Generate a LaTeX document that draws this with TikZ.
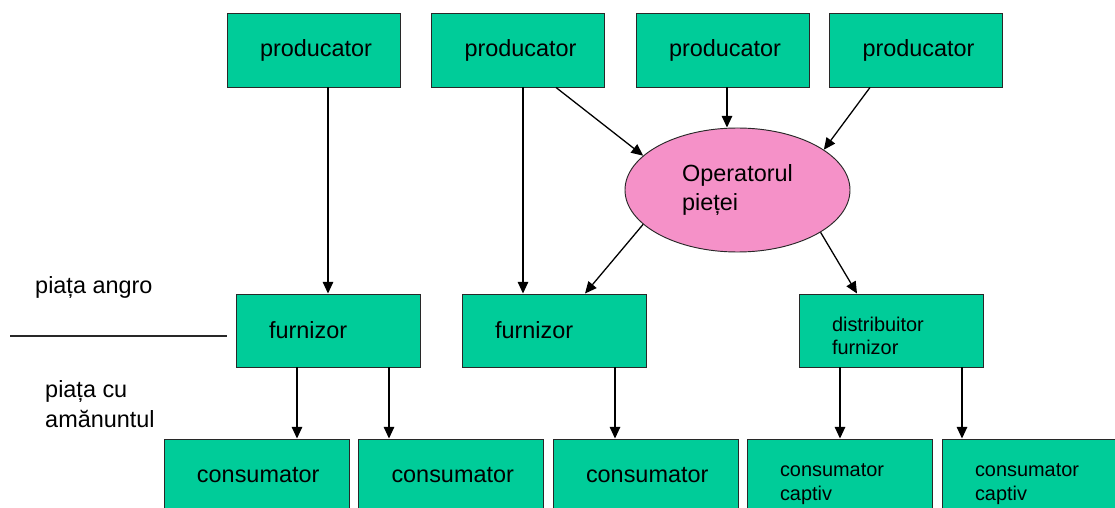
\documentclass[tikz,border=0pt]{standalone}
\usepackage{fontspec}
\setmainfont{Liberation Sans}
\usepackage{tikz}
\usetikzlibrary{arrows.meta,calc,shapes.geometric}
\definecolor{VerdeCutie}{RGB}{0,204,153}
\definecolor{RozOperator}{RGB}{245,145,200}
\definecolor{ConturGri}{RGB}{40,40,40}
\hyphenpenalty=10000

\begin{document}
\begin{tikzpicture}[x=0.03cm,y=-0.03cm,>={Triangle[length=10pt,width=9pt]},
  cutie/.style={draw=ConturGri,fill=VerdeCutie,line width=0.8pt,align=left,inner xsep=0.99cm,inner ysep=0pt,font=\fontsize{20}{23}\selectfont},
  cutiesus/.style={cutie,text width=3.21cm,minimum height=2.22cm},
  cutiemij/.style={cutie,text width=3.54cm,minimum height=2.19cm},
  cutiejos/.style={cutie,text width=3.57cm,minimum height=2.19cm},
  textmic/.style={font=\fontsize{17}{20}\selectfont},
  eticheta/.style={inner sep=0pt,font=\fontsize{20}{26}\selectfont},
  sageata/.style={->,line width=1.1pt,black}]
  \useasboundingbox (0,0) rectangle (1115,508);
  \clip (0,0) rectangle (1115,508);

  \node[cutiesus] (prod1) at (313.5,50) {producator};
  \node[cutiesus] (prod2) at (518,50) {producator};
  \node[cutiesus] (prod3) at (722.5,50) {producator};
  \node[cutiesus] (prod4) at (916,50) {producator};

  \node[draw=ConturGri,fill=RozOperator,ellipse,line width=0.8pt,minimum width=6.75cm,minimum height=3.72cm,inner sep=0pt,align=left,font=\fontsize{20}{25}\selectfont] (operator) at (737.5,190) {Operatorul\\pieței};

  \node[cutiemij] (furn1) at (328,330.5) {furnizor};
  \node[cutiemij] (furn2) at (554,330.5) {furnizor};
  \node[cutiemij,textmic] (distrib) at (891,330.5) {\rule{0pt}{0.74cm}distribuitor\\furnizor};

  \node[cutiejos] (cons1) at (256.5,475.5) {consumator};
  \node[cutiejos] (cons2) at (451,475.5) {consumator};
  \node[cutiejos] (cons3) at (645.5,475.5) {consumator};
  \node[cutiejos,textmic] (cons4) at (839.5,475.5) {\rule{0pt}{0.9cm}consumator\\captiv};
  \node[cutiejos,textmic] (cons5) at (1034.5,475.5) {\rule{0pt}{0.9cm}consumator\\captiv};

  \node[eticheta,anchor=base west] (angro) at (35,293) {piața angro};
  \node[eticheta,anchor=north west,align=left] (amanunt) at (45,380) {piața cu\\amănuntul};
  \coordinate (sepst) at (10,336);
  \coordinate (sepdr) at (227,336);
  \draw[line width=0.9pt,ConturGri] (sepst) -- (sepdr);

  \draw[sageata] ($(prod1.south)+(14.5,0)$) -- (furn1.north);
  \draw[sageata] ($(prod2.south)+(5,0)$) -- ($(furn2.north)+(-31,0)$);
  \draw[sageata] ($(prod2.south east)+(-49,0)$) -- (operator.160);
  \draw[sageata] ($(prod3.south)+(4.5,0)$) -- ($(operator.north)+(-10.5,0)$);
  \draw[sageata] ($(prod4.south)+(-46,0)$) -- (operator.25);
  \draw[sageata] (operator.200) -- ($(furn2.north)+(31,0)$);
  \draw[sageata] (operator.-27) -- ($(distrib.north)+(-34,0)$);

  \draw[sageata] ($(furn1.south)+(-31,0)$) -- ($(cons1.north)+(40.5,0)$);
  \draw[sageata] ($(furn1.south)+(61,0)$) -- ($(cons2.north)+(-62,0)$);
  \draw[sageata] ($(furn2.south)+(61,0)$) -- ($(cons3.north)+(-30.5,0)$);
  \draw[sageata] ($(distrib.south)+(-51,0)$) -- ($(cons4.north)+(0.5,0)$);
  \draw[sageata] ($(distrib.south)+(71,0)$) -- ($(cons5.north)+(-72.5,0)$);
\end{tikzpicture}
\end{document}
